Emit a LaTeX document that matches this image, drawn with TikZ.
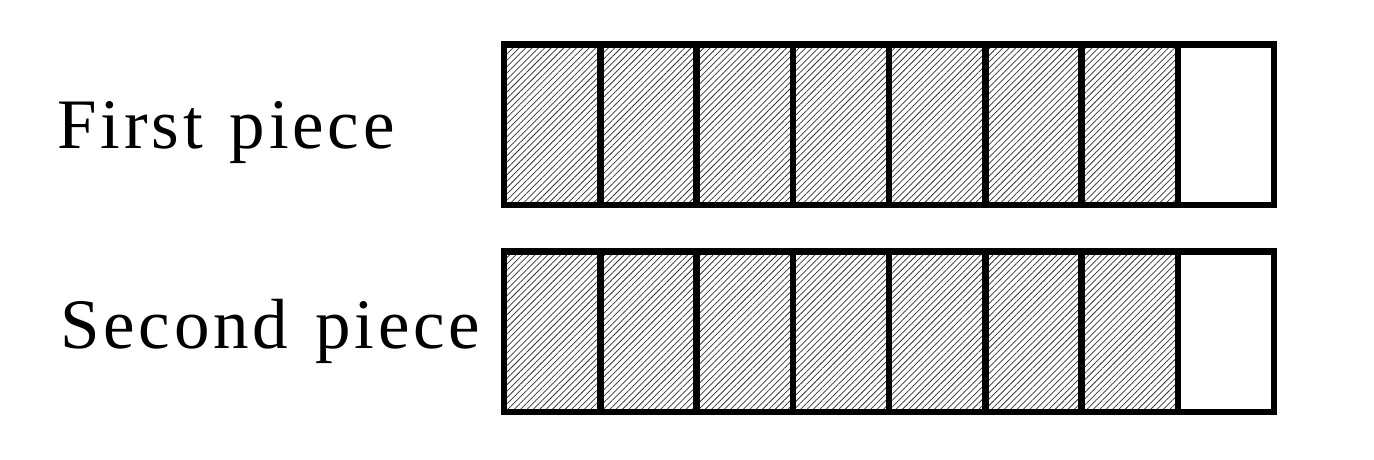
\documentclass[tikz,border=0pt]{standalone}
\usepackage{fontspec}
\setmainfont{Liberation Serif}
\newfontfamily\labfont[LetterSpace=5.4,WordSpace=1.25]{Liberation Serif}
\usetikzlibrary{patterns.meta}
\tikzset{
  cellbox/.style={draw=black, line width=6.5pt, minimum width=96.25pt, minimum height=160.5pt, inner sep=0pt, outer sep=0pt, anchor=south west},
  hatched/.style={pattern={Lines[angle=45,distance=4.5pt,line width=0.75pt]}, pattern color=black!80},
  labeltext/.style={font=\labfont\fontsize{71}{80}\selectfont, anchor=base west, inner sep=0pt}
}
\begin{document}
\begin{tikzpicture}[x=1pt,y=1pt]
\useasboundingbox (0,0) rectangle (1374,459);
\fill[white] (0,0) rectangle (1374,459);
\foreach \r/\yy in {1/254, 2/47} {
  \foreach \c in {1,...,7} {
    \node[cellbox, hatched] (r\r c\c) at ({504+(\c-1)*96.25}, \yy) {};
  }
  \node[cellbox] (r\r c8) at ({504+7*96.25}, \yy) {};
}
\node[labeltext] (lab1) at (57,311) {First piece};
\node[labeltext] (lab2) at (60,111) {Second piece};
\end{tikzpicture}
\end{document}
